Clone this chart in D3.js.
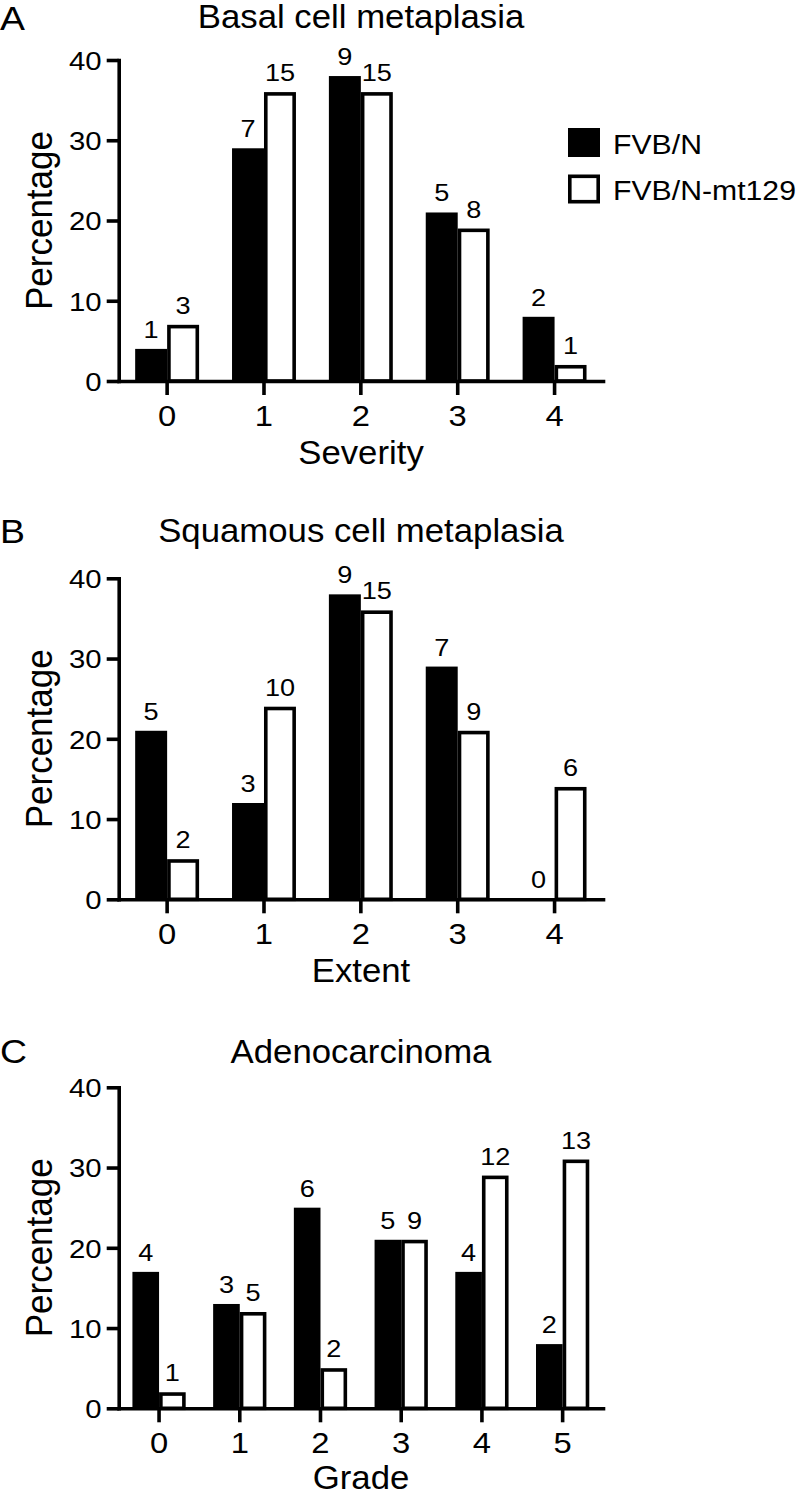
<!DOCTYPE html>
<html>
<head>
<meta charset="utf-8">
<script src="https://cdn.jsdelivr.net/npm/d3@7"></script>
<style>
  html, body { margin: 0; padding: 0; background: #fff; }
  svg { display: block; }
  text { font-family: "Liberation Sans", Arial, Helvetica, sans-serif; fill: #000; }
</style>
</head>
<body>
<svg id="chart" width="800" height="1495"></svg>
<script>
// ---------- DATA ----------
const seriesNames = ["FVB/N", "FVB/N-mt129"];
const yTicks = [0, 10, 20, 30, 40];

// Panel A – Basal cell metaplasia (Severity)
const basalCats = ["0", "1", "2", "3", "4"];
const basalFVB = [4, 29, 38, 21, 8];
const basalMt = [7, 36, 36, 19, 2];
const basalFVBCounts = [1, 7, 9, 5, 2];
const basalMtCounts = [3, 15, 15, 8, 1];

// Panel B – Squamous cell metaplasia (Extent)
const squamCats = ["0", "1", "2", "3", "4"];
const squamFVB = [21, 12, 38, 29, 0];
const squamMt = [5, 24, 36, 21, 14];
const squamFVBCounts = [5, 3, 9, 7, 0];
const squamMtCounts = [2, 10, 15, 9, 6];

// Panel C – Adenocarcinoma (Grade)
const adenoCats = ["0", "1", "2", "3", "4", "5"];
const adenoFVB = [17, 13, 25, 21, 17, 8];
const adenoMt = [2, 12, 5, 21, 29, 31];
const adenoFVBCounts = [4, 3, 6, 5, 4, 2];
const adenoMtCounts = [1, 5, 2, 9, 12, 13];

// ---------- LAYOUT ----------
const svg = d3.select("#chart");
const SX = 1.07;          // horizontal text stretch seen in the reference
const SXD = 1.13;         // digits look a little wider still
const SW = 3.6;           // line / outline weight
const X0 = 118.7, X1 = 603;
const SPAN = 321;

function stretchText(sel, x, y, anchor, rotate, sx) {
  sel.attr("x", 0).attr("y", 0)
     .attr("text-anchor", anchor)
     .attr("transform", `translate(${x},${y}) scale(${sx || SX},1)` + (rotate ? ` rotate(${rotate})` : ""));
  return sel;
}

const panels = [
  { letter: "A", title: "Basal cell metaplasia", xTitle: "Severity", cats: basalCats,
    fvb: basalFVB, mt: basalMt, fvbN: basalFVBCounts, mtN: basalMtCounts,
    y0: 381, titleY: 28, letterY: 30, legend: true },
  { letter: "B", title: "Squamous cell metaplasia", xTitle: "Extent", cats: squamCats,
    fvb: squamFVB, mt: squamMt, fvbN: squamFVBCounts, mtN: squamMtCounts,
    y0: 899.3, titleY: 541.7, letterY: 543.3, legend: false },
  { letter: "C", title: "Adenocarcinoma", xTitle: "Grade", cats: adenoCats,
    fvb: adenoFVB, mt: adenoMt, fvbN: adenoFVBCounts, mtN: adenoMtCounts,
    y0: 1408.3, titleY: 1062.7, letterY: 1063.3, legend: false }
];

panels.forEach((p, pi) => {
  const g = svg.append("g");
  const y = d3.scaleLinear().domain([0, 40]).range([p.y0, p.y0 - SPAN]);
  const x = d3.scaleBand().domain(p.cats).range([X0, X1]).paddingInner(0).paddingOuter(0);
  const bw = x.bandwidth();
  const w = bw * 0.33;
  const inner = d3.scaleBand().domain(seriesNames).range([-w, w]);

  // panel letter
  stretchText(g.append("text").text(p.letter).attr("font-size", 34), 0, p.letterY, "start", null, 1.1);
  // title
  stretchText(g.append("text").text(p.title).attr("font-size", 32.5), 361, p.titleY, "middle");

  // bars
  const rows = p.cats.map((c, i) => ({ c, a: p.fvb[i], b: p.mt[i], na: p.fvbN[i], nb: p.mtN[i] }));
  rows.forEach(r => {
    const cx = x(r.c) + bw / 2;
    const xa = cx + inner(seriesNames[0]);
    if (r.a > 0) {
      g.append("rect")
        .attr("x", xa).attr("y", y(r.a))
        .attr("width", inner.bandwidth()).attr("height", y(0) - y(r.a))
        .attr("fill", "#000");
    }
    const xb = cx + inner(seriesNames[1]);
    g.append("rect")
      .attr("x", xb + SW / 2).attr("y", y(r.b) + SW / 2)
      .attr("width", inner.bandwidth() - SW).attr("height", Math.max(0, y(0) - y(r.b) - SW / 2))
      .attr("fill", "#fff").attr("stroke", "#000").attr("stroke-width", SW);
    stretchText(g.append("text").text(r.na).attr("font-size", 24),
      xa + inner.bandwidth() / 2, y(r.a) - 11, "middle", null, SXD);
    stretchText(g.append("text").text(r.nb).attr("font-size", 24),
      xb + inner.bandwidth() / 2, y(r.b) - 11, "middle", null, SXD);
  });

  // y axis
  const ya = g.append("g").attr("transform", `translate(${X0},0)`)
    .call(d3.axisLeft(y).tickValues(yTicks).tickSize(12).tickSizeOuter(0));
  ya.select(".domain").attr("stroke-width", SW).attr("stroke-linecap", "square");
  ya.selectAll(".tick line").attr("stroke-width", SW);
  ya.selectAll(".tick text").each(function () {
    const t = d3.select(this);
    t.attr("dy", "0.36em").attr("font-size", 26).attr("font-family", null);
    stretchText(t, -17, 0, "end", null, SXD);
  });

  // x axis
  const xa = g.append("g").attr("transform", `translate(0,${p.y0})`)
    .call(d3.axisBottom(x).tickSize(14).tickSizeOuter(0));
  xa.select(".domain").attr("stroke-width", SW).attr("stroke-linecap", "square");
  xa.selectAll(".tick line").attr("stroke-width", SW);
  xa.selectAll(".tick text").each(function () {
    const t = d3.select(this);
    t.attr("dy", null).attr("font-size", 29).attr("font-family", null);
    stretchText(t, 0, 45, "middle", null, SXD);
  });

  // axis titles
  const xtY = pi === 2 ? p.y0 + 80.5 : p.y0 + 82.5;
  stretchText(g.append("text").text(p.xTitle).attr("font-size", 32.5), 361, xtY, "middle");
  stretchText(g.append("text").text("Percentage").attr("font-size", 35), 51.7, p.y0 - SPAN / 2, "middle", -90);

  // legend
  if (p.legend) {
    const lg = g.append("g");
    seriesNames.forEach((name, i) => {
      const top = 128 + i * 46.5;
      lg.append("rect")
        .attr("x", 568 + SW / 2).attr("y", top + SW / 2)
        .attr("width", 32 - SW).attr("height", 29 - SW)
        .attr("fill", i === 0 ? "#000" : "#fff")
        .attr("stroke", "#000").attr("stroke-width", SW);
      stretchText(lg.append("text").text(name).attr("font-size", 28.5), 613, top + 25.5, "start", null, 1.06);
    });
  }
});
</script>
</body>
</html>
